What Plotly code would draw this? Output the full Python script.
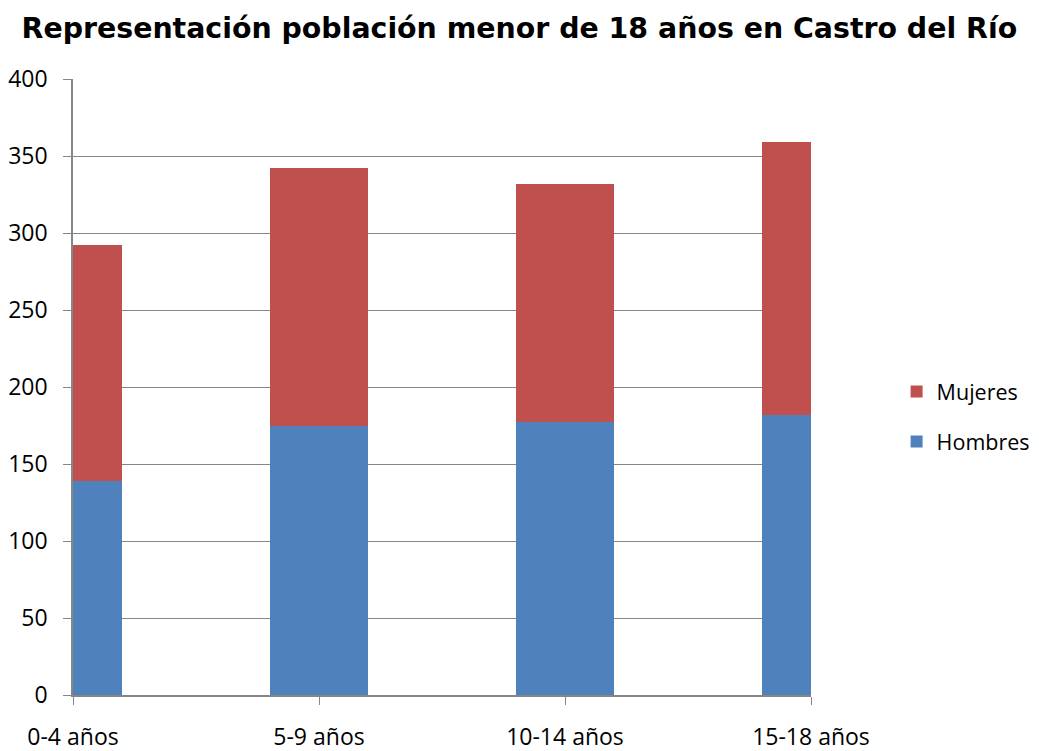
import plotly.graph_objects as go

categories = ["0-4 años", "5-9 años", "10-14 años", "15-18 años"]
hombres = [139, 175, 177, 182]
mujeres = [153, 167, 155, 177]
y_ticks = [0, 50, 100, 150, 200, 250, 300, 350, 400]

xpos = list(range(len(categories)))
tick_font = dict(family="Open Sans, sans-serif", size=23, color="#000000")
legend_font = dict(family="Open Sans, sans-serif", size=21.5, color="#000000")

fig = go.Figure()
fig.add_trace(go.Bar(x=xpos, y=hombres, name="Hombres", marker_color="#4F81BD",
                     marker_line_width=0, width=0.4, legendrank=2, legendgroup="h"))
fig.add_trace(go.Bar(x=xpos, y=mujeres, name="Mujeres", marker_color="#C0504D",
                     marker_line_width=0, width=0.4, legendrank=1, legendgroup="m"))

fig.update_layout(
    barmode="stack",
    width=1031, height=743,
    margin=dict(l=65, r=228, t=71, b=56, autoexpand=False),
    plot_bgcolor="white", paper_bgcolor="white",
    title=dict(text="<b>Representación población menor de 18 años en Castro del Río</b>",
               x=0.496, xanchor="center", y=0.973, yanchor="middle",
               font=dict(family="DejaVu Sans, sans-serif", size=28.4, color="#000000")),
    legend=dict(x=1.116, xanchor="left", y=0.452, yanchor="middle",
                traceorder="grouped", tracegroupgap=19,
                font=legend_font, bgcolor="rgba(0,0,0,0)"),
    showlegend=True,
)
fig.update_xaxes(range=[0, 3], tickvals=xpos, ticktext=categories, automargin=False,
                 showgrid=False, zeroline=False, showline=True, linecolor="#868686",
                 linewidth=1.5, ticks="outside", ticklen=8, tickcolor="#868686",
                 tickfont=tick_font, ticklabelstandoff=13, fixedrange=True)
fig.update_yaxes(range=[0, 400], tickvals=y_ticks, showgrid=True, gridcolor="#868686",
                 gridwidth=1.3, zeroline=False, showline=True, linecolor="#868686",
                 linewidth=1.5, ticks="outside", ticklen=8, tickcolor="#868686",
                 tickfont=tick_font, ticklabelstandoff=11, automargin=False)

fig.write_html("out.html")
